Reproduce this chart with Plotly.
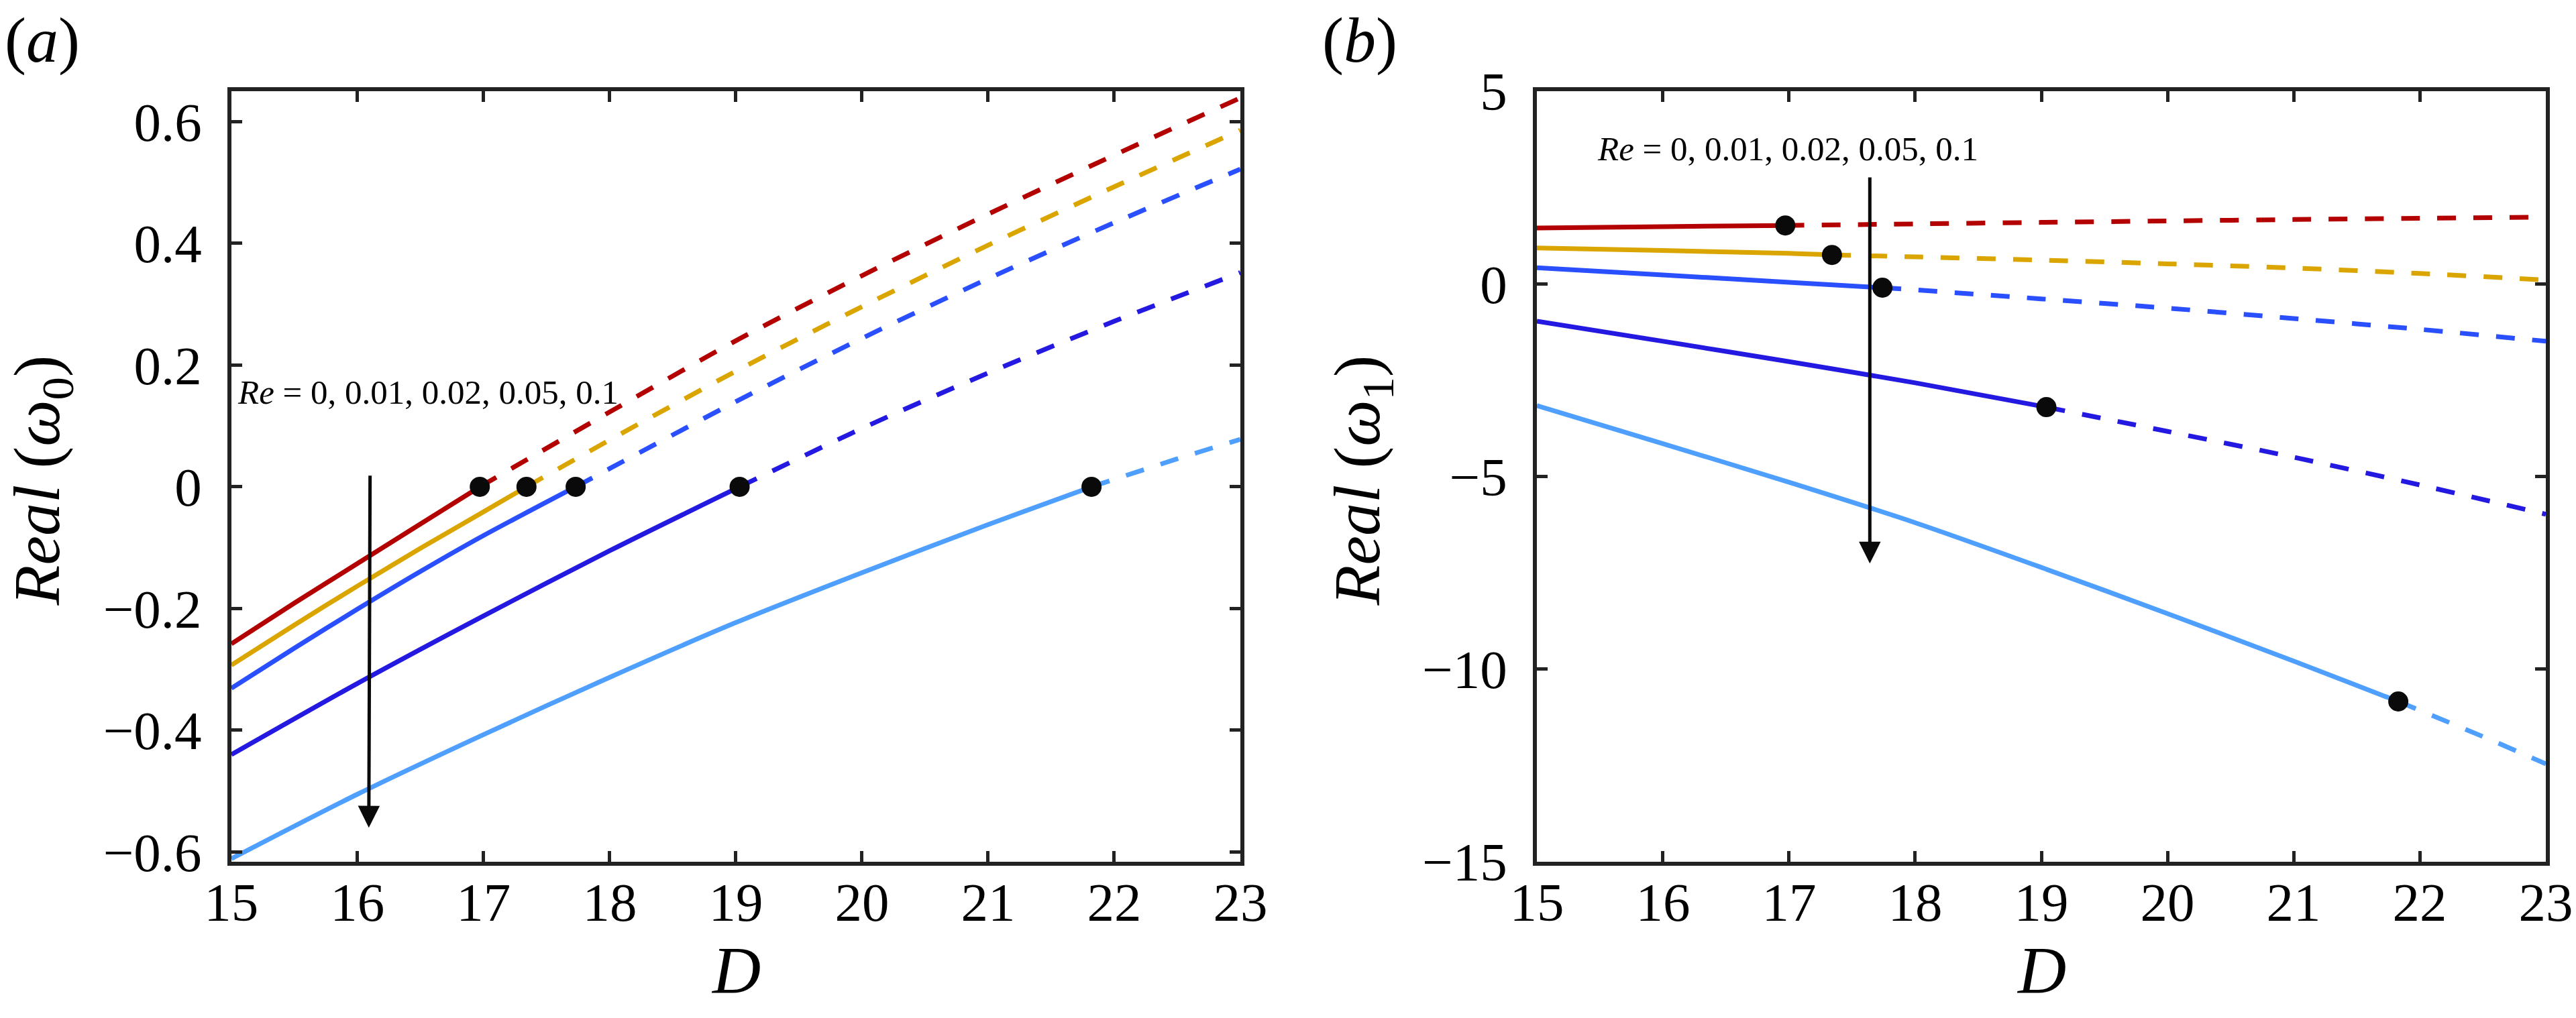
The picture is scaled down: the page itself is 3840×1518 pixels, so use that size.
import plotly.graph_objects as go

# panel (a): Real(omega_0) vs D, solid up to the critical point, dashed after
re_labels = ["0", "0.01", "0.02", "0.05", "0.1"]
colors = ["#b30000", "#dba500", "#2a4fff", "#2419e0", "#4f9fff"]

a_solid_D = [
    [15, 15.5, 16, 16.5, 16.97],
    [15, 15.5, 16, 16.5, 17, 17.34],
    [15, 15.5, 16, 16.5, 17, 17.73],
    [15, 16, 17, 18, 19.03],
    [15, 16, 17, 18, 19, 20, 21, 21.82],
]
a_solid_w = [
    [-0.258, -0.191, -0.126, -0.061, 0.0],
    [-0.293, -0.227, -0.163, -0.101, -0.041, 0.0],
    [-0.331, -0.265, -0.201, -0.139, -0.08, 0.0],
    [-0.44, -0.323, -0.212, -0.105, 0.0],
    [-0.611, -0.505, -0.407, -0.313, -0.223, -0.141, -0.062, 0.0],
]
a_dash_D = [
    [16.97, 18, 19, 20, 21, 22, 23],
    [17.34, 18, 19, 20, 21, 22, 23],
    [17.73, 18, 19, 20, 21, 22, 23],
    [19.03, 20, 21, 22, 23],
    [21.82, 22.5, 23],
]
a_dash_w = [
    [0.0, 0.123, 0.24, 0.347, 0.448, 0.545, 0.639],
    [0.0, 0.077, 0.19, 0.296, 0.397, 0.493, 0.586],
    [0.0, 0.03, 0.14, 0.244, 0.342, 0.434, 0.522],
    [0.0, 0.096, 0.187, 0.272, 0.352],
    [0.0, 0.046, 0.078],
]
a_crit_D = [16.97, 17.34, 17.73, 19.03, 21.82]
a_crit_w = [0, 0, 0, 0, 0]

# panel (b): Real(omega_1) vs D
b_solid_D = [
    [15, 16, 16.97],
    [15, 16, 17, 17.34],
    [15, 16, 17, 17.74],
    [15, 16, 17, 18, 19.04],
    [15, 16, 17, 18, 19, 20, 21, 21.83],
]
b_solid_w = [
    [1.45, 1.485, 1.516],
    [0.93, 0.865, 0.79, 0.75],
    [0.42, 0.23, 0.04, -0.1],
    [-0.97, -1.49, -2.02, -2.57, -3.2],
    [-3.16, -4.15, -5.15, -6.2, -7.36, -8.56, -9.79, -10.84],
]
b_dash_D = [
    [16.97, 18, 19, 20, 21, 22, 23],
    [17.34, 18, 19, 20, 21, 22, 23],
    [17.74, 18, 19, 20, 21, 22, 23],
    [19.04, 20, 21, 22, 23],
    [21.83, 22.5, 23],
]
b_dash_w = [
    [1.516, 1.556, 1.595, 1.633, 1.669, 1.702, 1.733],
    [0.75, 0.70, 0.615, 0.52, 0.41, 0.27, 0.10],
    [-0.1, -0.157, -0.39, -0.63, -0.9, -1.18, -1.49],
    [-3.2, -3.83, -4.5, -5.22, -5.98],
    [-10.84, -11.75, -12.46],
]
b_crit_D = [16.97, 17.34, 17.74, 19.04, 21.83]
b_crit_w = [1.516, 0.75, -0.1, -3.2, -10.84]

x_ticks = [15, 16, 17, 18, 19, 20, 21, 22, 23]
a_yticks = [-0.6, -0.4, -0.2, 0, 0.2, 0.4, 0.6]
a_yticktext = ["\u22120.6", "\u22120.4", "\u22120.2", "0", "0.2", "0.4", "0.6"]
b_yticks = [-15, -10, -5, 0, 5]
b_yticktext = ["\u221215", "\u221210", "\u22125", "0", "5"]

FONT = "Liberation Serif"
LW = 7

fig = go.Figure()

panels = [
    ("x", "y", a_solid_D, a_solid_w, a_dash_D, a_dash_w, a_crit_D, a_crit_w),
    ("x2", "y2", b_solid_D, b_solid_w, b_dash_D, b_dash_w, b_crit_D, b_crit_w),
]
for xa, ya, sD, sw, dD, dw, cD, cw in panels:
    for i in range(len(re_labels)):
        fig.add_trace(go.Scatter(x=sD[i], y=sw[i], mode="lines", xaxis=xa, yaxis=ya,
                                 line=dict(color=colors[i], width=LW, shape="spline", smoothing=0.8),
                                 name="Re = " + re_labels[i], showlegend=False))
        fig.add_trace(go.Scatter(x=dD[i], y=dw[i], mode="lines", xaxis=xa, yaxis=ya,
                                 line=dict(color=colors[i], width=LW, dash="28px,26px",
                                           shape="spline", smoothing=0.8),
                                 showlegend=False))
    fig.add_trace(go.Scatter(x=cD, y=cw, mode="markers", xaxis=xa, yaxis=ya,
                             marker=dict(color="#0a0a0a", size=30), showlegend=False))

axis_common = dict(
    showline=True, linewidth=6, linecolor="#222222", mirror="ticks",
    ticks="inside", ticklen=16, tickwidth=5, tickcolor="#222222",
    showgrid=False, zeroline=False, automargin=False,
    tickfont=dict(family=FONT, size=81, color="black"),
)

fig.update_layout(
    template="none",
    width=3840, height=1518, autosize=False,
    margin=dict(l=0, r=0, t=0, b=0),
    paper_bgcolor="white", plot_bgcolor="white",
    showlegend=False,
    xaxis=dict(domain=[0.0898, 0.4815], anchor="y", range=[15, 23],
               tickvals=x_ticks, ticklabelstandoff=-15, **axis_common),
    yaxis=dict(domain=[0.1535, 0.9104], anchor="x", range=[-0.616, 0.65],
               tickvals=a_yticks, ticktext=a_yticktext, ticklabelstandoff=22,
               **axis_common),
    xaxis2=dict(domain=[0.5966, 0.9883], anchor="y2", range=[15, 23],
                tickvals=x_ticks, ticklabelstandoff=-15, **axis_common),
    yaxis2=dict(domain=[0.1535, 0.9104], anchor="x2", range=[-15, 5],
                tickvals=b_yticks, ticktext=b_yticktext, ticklabelstandoff=22,
                **axis_common),
)

title_font = dict(family=FONT, size=100, color="black")
re_text = "<i>Re</i> = " + ", ".join(re_labels)
annotations = [
    dict(text="(<i>a</i>)", x=0.0012, y=0.961, xref="paper", yref="paper",
         xanchor="left", yanchor="middle", showarrow=False,
         font=dict(family=FONT, size=96, color="black")),
    dict(text="(<i>b</i>)", x=0.5128, y=0.961, xref="paper", yref="paper",
         xanchor="left", yanchor="middle", showarrow=False,
         font=dict(family=FONT, size=96, color="black")),
    # axis titles
    dict(text="<i>D</i>", x=0.2857, y=0.047, xref="paper", yref="paper",
         xanchor="center", yanchor="middle", showarrow=False, font=title_font),
    dict(text="<i>D</i>", x=0.7924, y=0.047, xref="paper", yref="paper",
         xanchor="center", yanchor="middle", showarrow=False, font=title_font),
    dict(text="<i>Real</i> (<i>\u03c9</i><sub>0</sub>)", x=0.0164, y=0.528,
         xref="paper", yref="paper", xanchor="center", yanchor="middle",
         textangle=-90, showarrow=False, font=dict(family=FONT, size=98, color="black")),
    dict(text="<i>Real</i> (<i>\u03c9</i><sub>1</sub>)", x=0.5289, y=0.528,
         xref="paper", yref="paper", xanchor="center", yanchor="middle",
         textangle=-90, showarrow=False, font=dict(family=FONT, size=98, color="black")),
    # Re labels and arrows
    dict(text=re_text, x=15.04, y=0.155, xref="x", yref="y",
         xanchor="left", yanchor="middle", showarrow=False,
         font=dict(family=FONT, size=51, color="black")),
    dict(text=re_text, x=15.47, y=3.5, xref="x2", yref="y2",
         xanchor="left", yanchor="middle", showarrow=False,
         font=dict(family=FONT, size=51, color="black")),
    dict(text="", x=16.09, y=-0.56, ax=16.1, ay=0.02, xref="x", yref="y",
         axref="x", ayref="y", showarrow=True, arrowhead=2, arrowsize=1.3,
         arrowwidth=5, arrowcolor="#0a0a0a"),
    dict(text="", x=17.64, y=-7.26, ax=17.64, ay=2.79, xref="x2", yref="y2",
         axref="x2", ayref="y2", showarrow=True, arrowhead=2, arrowsize=1.3,
         arrowwidth=5, arrowcolor="#0a0a0a"),
]
fig.update_layout(annotations=annotations)

fig.write_html("out.html", config={"displayModeBar": False},
               post_script="document.body.style.margin='0';")
